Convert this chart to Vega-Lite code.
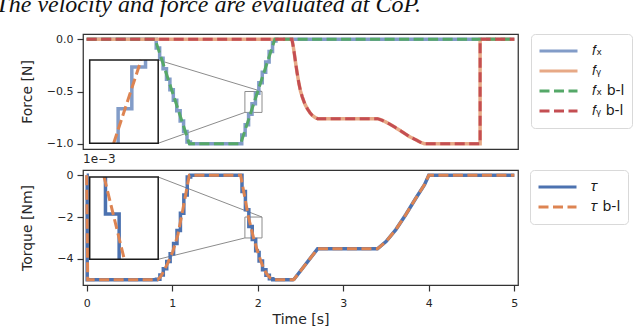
{
  "$schema": "https://vega.github.io/schema/vega-lite/v6.json",
  "padding": {"left": -5, "top": -8, "right": 0, "bottom": 0},
  "background": "white",
  "title": {"text": "The velocity and force are evaluated at CoP.", "font": "Liberation Serif", "fontStyle": "italic", "fontWeight": "normal", "fontSize": 24, "anchor": "start", "color": "#111", "offset": 15, "dx": -24},
  "datasets": {
    "F": [
      {"s": "fx", "i": 0, "t": 0, "v": 0}, {"s": "fx", "i": 1, "t": 0.813, "v": -0.083}, {"s": "fx", "i": 2, "t": 0.853, "v": -0.183}, {"s": "fx", "i": 3, "t": 0.893, "v": -0.283}, {"s": "fx", "i": 4, "t": 0.933, "v": -0.383}, {"s": "fx", "i": 5, "t": 0.973, "v": -0.483}, {"s": "fx", "i": 6, "t": 1.013, "v": -0.583}, {"s": "fx", "i": 7, "t": 1.053, "v": -0.683}, {"s": "fx", "i": 8, "t": 1.093, "v": -0.783}, {"s": "fx", "i": 9, "t": 1.133, "v": -0.883}, {"s": "fx", "i": 10, "t": 1.173, "v": -0.983}, {"s": "fx", "i": 11, "t": 1.213, "v": -1}, {"s": "fx", "i": 12, "t": 1.813, "v": -0.917}, {"s": "fx", "i": 13, "t": 1.853, "v": -0.817}, {"s": "fx", "i": 14, "t": 1.893, "v": -0.717}, {"s": "fx", "i": 15, "t": 1.933, "v": -0.617}, {"s": "fx", "i": 16, "t": 1.973, "v": -0.517}, {"s": "fx", "i": 17, "t": 2.013, "v": -0.417}, {"s": "fx", "i": 18, "t": 2.053, "v": -0.317}, {"s": "fx", "i": 19, "t": 2.093, "v": -0.217}, {"s": "fx", "i": 20, "t": 2.133, "v": -0.117}, {"s": "fx", "i": 21, "t": 2.173, "v": -0.017}, {"s": "fx", "i": 22, "t": 2.213, "v": 0}, {"s": "fx", "i": 23, "t": 5, "v": 0},
      {"s": "fy", "i": 0, "t": 0, "v": 0}, {"s": "fy", "i": 1, "t": 2.4, "v": 0}, {"s": "fy", "i": 2, "t": 2.41, "v": -0.045}, {"s": "fy", "i": 3, "t": 2.42, "v": -0.095}, {"s": "fy", "i": 4, "t": 2.43, "v": -0.15}, {"s": "fy", "i": 5, "t": 2.444, "v": -0.233}, {"s": "fy", "i": 6, "t": 2.46, "v": -0.32}, {"s": "fy", "i": 7, "t": 2.482, "v": -0.425}, {"s": "fy", "i": 8, "t": 2.5, "v": -0.495}, {"s": "fy", "i": 9, "t": 2.521, "v": -0.553}, {"s": "fy", "i": 10, "t": 2.55, "v": -0.618}, {"s": "fy", "i": 11, "t": 2.58, "v": -0.665}, {"s": "fy", "i": 12, "t": 2.61, "v": -0.702}, {"s": "fy", "i": 13, "t": 2.638, "v": -0.729}, {"s": "fy", "i": 14, "t": 2.67, "v": -0.748}, {"s": "fy", "i": 15, "t": 2.7, "v": -0.76}, {"s": "fy", "i": 16, "t": 3.4, "v": -0.76}, {"s": "fy", "i": 17, "t": 3.45, "v": -0.773}, {"s": "fy", "i": 18, "t": 3.536, "v": -0.808}, {"s": "fy", "i": 19, "t": 3.61, "v": -0.845}, {"s": "fy", "i": 20, "t": 3.692, "v": -0.888}, {"s": "fy", "i": 21, "t": 3.77, "v": -0.93}, {"s": "fy", "i": 22, "t": 3.849, "v": -0.962}, {"s": "fy", "i": 23, "t": 3.9, "v": -0.985}, {"s": "fy", "i": 24, "t": 3.95, "v": -1}, {"s": "fy", "i": 25, "t": 4.6, "v": -1}, {"s": "fy", "i": 26, "t": 4.6, "v": 0}, {"s": "fy", "i": 27, "t": 5, "v": 0},
      {"s": "fybl", "i": 0, "t": 0, "v": 0}, {"s": "fybl", "i": 1, "t": 2.4, "v": 0}, {"s": "fybl", "i": 2, "t": 2.41, "v": -0.045}, {"s": "fybl", "i": 3, "t": 2.42, "v": -0.095}, {"s": "fybl", "i": 4, "t": 2.43, "v": -0.15}, {"s": "fybl", "i": 5, "t": 2.444, "v": -0.233}, {"s": "fybl", "i": 6, "t": 2.46, "v": -0.32}, {"s": "fybl", "i": 7, "t": 2.482, "v": -0.425}, {"s": "fybl", "i": 8, "t": 2.5, "v": -0.495}, {"s": "fybl", "i": 9, "t": 2.521, "v": -0.553}, {"s": "fybl", "i": 10, "t": 2.55, "v": -0.618}, {"s": "fybl", "i": 11, "t": 2.58, "v": -0.665}, {"s": "fybl", "i": 12, "t": 2.61, "v": -0.702}, {"s": "fybl", "i": 13, "t": 2.638, "v": -0.729}, {"s": "fybl", "i": 14, "t": 2.67, "v": -0.748}, {"s": "fybl", "i": 15, "t": 2.7, "v": -0.76}, {"s": "fybl", "i": 16, "t": 3.4, "v": -0.76}, {"s": "fybl", "i": 17, "t": 3.45, "v": -0.773}, {"s": "fybl", "i": 18, "t": 3.536, "v": -0.808}, {"s": "fybl", "i": 19, "t": 3.61, "v": -0.845}, {"s": "fybl", "i": 20, "t": 3.692, "v": -0.888}, {"s": "fybl", "i": 21, "t": 3.77, "v": -0.93}, {"s": "fybl", "i": 22, "t": 3.849, "v": -0.962}, {"s": "fybl", "i": 23, "t": 3.9, "v": -0.985}, {"s": "fybl", "i": 24, "t": 3.95, "v": -1}, {"s": "fybl", "i": 25, "t": 4.6, "v": -1}, {"s": "fybl", "i": 26, "t": 4.6, "v": 0}, {"s": "fybl", "i": 27, "t": 5, "v": 0},
      {"s": "fxbl", "i": 0, "t": 0, "v": 0}, {"s": "fxbl", "i": 1, "t": 0.8, "v": 0}, {"s": "fxbl", "i": 2, "t": 1.2, "v": -1}, {"s": "fxbl", "i": 3, "t": 1.8, "v": -1}, {"s": "fxbl", "i": 4, "t": 2.2, "v": 0}, {"s": "fxbl", "i": 5, "t": 5, "v": 0}
    ],
    "T": [
      {"s": "tau", "i": 0, "t": 0, "v": 0}, {"s": "tau", "i": 1, "t": 0.006, "v": -5}, {"s": "tau", "i": 2, "t": 0.816, "v": -4.97}, {"s": "tau", "i": 3, "t": 0.856, "v": -4.77}, {"s": "tau", "i": 4, "t": 0.896, "v": -4.47}, {"s": "tau", "i": 5, "t": 0.936, "v": -4.13}, {"s": "tau", "i": 6, "t": 0.976, "v": -3.75}, {"s": "tau", "i": 7, "t": 1.016, "v": -3.26}, {"s": "tau", "i": 8, "t": 1.056, "v": -2.64}, {"s": "tau", "i": 9, "t": 1.096, "v": -1.82}, {"s": "tau", "i": 10, "t": 1.136, "v": -0.95}, {"s": "tau", "i": 11, "t": 1.176, "v": -0.09}, {"s": "tau", "i": 12, "t": 1.216, "v": 0},
      {"s": "tau", "i": 13, "t": 1.816, "v": -0.78}, {"s": "tau", "i": 14, "t": 1.856, "v": -1.65}, {"s": "tau", "i": 15, "t": 1.896, "v": -2.45}, {"s": "tau", "i": 16, "t": 1.936, "v": -3.07}, {"s": "tau", "i": 17, "t": 1.976, "v": -3.61}, {"s": "tau", "i": 18, "t": 2.016, "v": -4.1}, {"s": "tau", "i": 19, "t": 2.056, "v": -4.52}, {"s": "tau", "i": 20, "t": 2.096, "v": -4.78}, {"s": "tau", "i": 21, "t": 2.136, "v": -4.95}, {"s": "tau", "i": 22, "t": 2.176, "v": -5}, {"s": "tau", "i": 23, "t": 2.42, "v": -5},
      {"s": "tau2", "i": 0, "t": 2.42, "v": -5}, {"s": "tau2", "i": 1, "t": 2.7, "v": -3.52}, {"s": "tau2", "i": 2, "t": 3.4, "v": -3.52}, {"s": "tau2", "i": 3, "t": 3.5, "v": -3.17}, {"s": "tau2", "i": 4, "t": 3.615, "v": -2.6}, {"s": "tau2", "i": 5, "t": 3.73, "v": -1.89}, {"s": "tau2", "i": 6, "t": 3.85, "v": -1.09}, {"s": "tau2", "i": 7, "t": 3.95, "v": -0.45}, {"s": "tau2", "i": 8, "t": 4.0, "v": 0}, {"s": "tau2", "i": 9, "t": 5, "v": 0},
      {"s": "taubl", "i": 0, "t": 0, "v": 0}, {"s": "taubl", "i": 1, "t": 0.012, "v": -5}, {"s": "taubl", "i": 2, "t": 0.83, "v": -5}, {"s": "taubl", "i": 3, "t": 0.86, "v": -4.87}, {"s": "taubl", "i": 4, "t": 0.89, "v": -4.68}, {"s": "taubl", "i": 5, "t": 0.948, "v": -4.2}, {"s": "taubl", "i": 6, "t": 1.007, "v": -3.65}, {"s": "taubl", "i": 7, "t": 1.066, "v": -2.85}, {"s": "taubl", "i": 8, "t": 1.124, "v": -1.65}, {"s": "taubl", "i": 9, "t": 1.163, "v": -0.8}, {"s": "taubl", "i": 10, "t": 1.2, "v": 0}, {"s": "taubl", "i": 11, "t": 1.8, "v": 0}, {"s": "taubl", "i": 12, "t": 1.837, "v": -0.8}, {"s": "taubl", "i": 13, "t": 1.876, "v": -1.65}, {"s": "taubl", "i": 14, "t": 1.892, "v": -2}, {"s": "taubl", "i": 15, "t": 1.92, "v": -2.48}, {"s": "taubl", "i": 16, "t": 1.951, "v": -3}, {"s": "taubl", "i": 17, "t": 1.995, "v": -3.6}, {"s": "taubl", "i": 18, "t": 2.034, "v": -4.08}, {"s": "taubl", "i": 19, "t": 2.073, "v": -4.5}, {"s": "taubl", "i": 20, "t": 2.11, "v": -4.75}, {"s": "taubl", "i": 21, "t": 2.15, "v": -4.93}, {"s": "taubl", "i": 22, "t": 2.18, "v": -5}, {"s": "taubl", "i": 23, "t": 2.42, "v": -5}, {"s": "taubl", "i": 24, "t": 2.7, "v": -3.52}, {"s": "taubl", "i": 25, "t": 3.4, "v": -3.52}, {"s": "taubl", "i": 26, "t": 3.5, "v": -3.17}, {"s": "taubl", "i": 27, "t": 3.615, "v": -2.6}, {"s": "taubl", "i": 28, "t": 3.73, "v": -1.89}, {"s": "taubl", "i": 29, "t": 3.85, "v": -1.09}, {"s": "taubl", "i": 30, "t": 3.95, "v": -0.45}, {"s": "taubl", "i": 31, "t": 4.0, "v": 0}, {"s": "taubl", "i": 32, "t": 5, "v": 0}
    ],
    "IF": [
      {"s": "fx", "i": 0, "t": 1.933, "v": -0.7}, {"s": "fx", "i": 1, "t": 1.933, "v": -0.617}, {"s": "fx", "i": 2, "t": 1.973, "v": -0.617}, {"s": "fx", "i": 3, "t": 1.973, "v": -0.517}, {"s": "fx", "i": 4, "t": 2.013, "v": -0.517}, {"s": "fx", "i": 5, "t": 2.013, "v": -0.5},
      {"s": "fxbl", "i": 0, "t": 1.92, "v": -0.7}, {"s": "fxbl", "i": 1, "t": 2.0, "v": -0.5}
    ],
    "IT": [
      {"s": "tau", "i": 0, "t": 1.896, "v": -2}, {"s": "tau", "i": 1, "t": 1.896, "v": -2.45}, {"s": "tau", "i": 2, "t": 1.936, "v": -2.45}, {"s": "tau", "i": 3, "t": 1.936, "v": -3},
      {"s": "taubl", "i": 0, "t": 1.892, "v": -2}, {"s": "taubl", "i": 1, "t": 1.951, "v": -3}
    ],
    "BF": [{"t": 1.85, "t2": 2.05, "v": -0.7, "v2": -0.5}],
    "BT": [{"t": 1.85, "t2": 2.05, "v": -3, "v2": -2}],
    "CF": [{"t": 0.836, "v": -0.199, "t2": 2.05, "v2": -0.5}, {"t": 0.836, "v": -0.995, "t2": 1.85, "v2": -0.7}],
    "CT": [{"t": 0.836, "v": -0.085, "t2": 2.05, "v2": -2}, {"t": 0.836, "v": -4.021, "t2": 1.85, "v2": -3}]
  },
  "spacing": 0,
  "resolve": {"scale": {"color": "independent", "strokeDash": "independent"}, "legend": {"color": "independent", "strokeDash": "independent"}},
  "vconcat": [
    {
      "width": 435, "height": 115,
      "resolve": {"scale": {"x": "independent", "y": "independent"}},
      "layer": [
        {
          "encoding": {
            "x": {"field": "t", "type": "quantitative", "scale": {"domain": [-0.043, 5.043], "nice": false, "zero": false}, "axis": null},
            "y": {"field": "v", "type": "quantitative", "scale": {"domain": [-1.05, 0.05], "nice": false, "zero": false}, "axis": {"values": [0, -0.5, -1], "format": ".1f", "title": "Force [N]", "titleX": -56, "titleBaseline": "middle"}}
          },
          "layer": [
            {"data": {"name": "BF"}, "mark": {"type": "rect", "fillOpacity": 0, "stroke": "#8c8c8c", "strokeWidth": 1}, "encoding": {"x2": {"field": "t2"}, "y2": {"field": "v2"}}},
            {"data": {"name": "CF"}, "mark": {"type": "rule", "stroke": "#8c8c8c", "strokeWidth": 1}, "encoding": {"x2": {"field": "t2"}, "y2": {"field": "v2"}}},
            {"data": {"name": "F"}, "transform": [{"filter": "datum.s == 'fx'"}], "mark": {"type": "line", "interpolate": "step-after", "strokeWidth": 3.5},
             "encoding": {"order": {"field": "i", "type": "quantitative"},
               "color": {"field": "s", "type": "nominal", "scale": {"domain": ["fx", "fy", "fxbl", "fybl"], "range": ["#829cc8", "#e7a986", "#55a868", "#c44e52"]}, "legend": {"title": null, "labelExpr": "{'fx': '𝑓ₓ', 'fy': '𝑓ᵧ', 'fxbl': '𝑓ₓ b-l', 'fybl': '𝑓ᵧ b-l'}[datum.label]"}},
               "strokeDash": {"field": "s", "type": "nominal", "scale": {"domain": ["fx", "fy", "fxbl", "fybl"], "range": [[1, 0], [1, 0], [10, 4.5], [10, 4.5]]}, "legend": {"title": null, "labelExpr": "{'fx': '𝑓ₓ', 'fy': '𝑓ᵧ', 'fxbl': '𝑓ₓ b-l', 'fybl': '𝑓ᵧ b-l'}[datum.label]"}}}},
            {"data": {"name": "F"}, "transform": [{"filter": "datum.s == 'fy'"}], "mark": {"type": "line", "strokeWidth": 3.5},
             "encoding": {"order": {"field": "i", "type": "quantitative"}, "color": {"field": "s", "type": "nominal"}, "strokeDash": {"field": "s", "type": "nominal"}}},
            {"data": {"name": "F"}, "transform": [{"filter": "datum.s == 'fxbl'"}], "mark": {"type": "line", "strokeWidth": 3},
             "encoding": {"order": {"field": "i", "type": "quantitative"}, "color": {"field": "s", "type": "nominal"}, "strokeDash": {"field": "s", "type": "nominal"}}},
            {"data": {"name": "F"}, "transform": [{"filter": "datum.s == 'fybl'"}], "mark": {"type": "line", "strokeWidth": 3},
             "encoding": {"order": {"field": "i", "type": "quantitative"}, "color": {"field": "s", "type": "nominal"}, "strokeDash": {"field": "s", "type": "nominal"}}}
          ]
        },
        {
          "encoding": {
            "x": {"field": "t", "type": "quantitative", "scale": {"domain": [1.85, 2.05], "range": [6.7, 75.2], "nice": false, "zero": false}, "axis": null},
            "y": {"field": "v", "type": "quantitative", "scale": {"domain": [-0.7, -0.5], "range": [109.3, 26], "nice": false, "zero": false}, "axis": null}
          },
          "layer": [
            {"data": {"name": "BF"}, "mark": {"type": "rect", "fill": "white", "strokeWidth": 0}, "encoding": {"x2": {"field": "t2"}, "y2": {"field": "v2"}}},
            {"data": {"name": "IF"}, "transform": [{"filter": "datum.s == 'fx'"}], "mark": {"type": "line", "stroke": "#829cc8", "strokeWidth": 3.5}, "encoding": {"order": {"field": "i", "type": "quantitative"}}},
            {"data": {"name": "IF"}, "transform": [{"filter": "datum.s == 'fxbl'"}], "mark": {"type": "line", "stroke": "#dd8452", "strokeWidth": 3, "strokeDash": [10, 4.5]}, "encoding": {"order": {"field": "i", "type": "quantitative"}}},
            {"data": {"name": "BF"}, "mark": {"type": "rect", "fillOpacity": 0, "stroke": "#1a1a1a", "strokeWidth": 1.5}, "encoding": {"x2": {"field": "t2"}, "y2": {"field": "v2"}}}
          ]
        }
      ]
    },
    {
      "width": 435, "height": 115,
      "title": {"text": "1e−3", "anchor": "start", "frame": "group", "fontSize": 12, "font": "DejaVu Sans", "fontWeight": "normal", "color": "#262626", "offset": 2},
      "resolve": {"scale": {"x": "independent", "y": "independent"}},
      "layer": [
        {
          "encoding": {
            "x": {"field": "t", "type": "quantitative", "scale": {"domain": [-0.043, 5.043], "nice": false, "zero": false}, "axis": {"values": [0, 1, 2, 3, 4, 5], "format": "d", "title": "Time [s]", "titlePadding": 4, "labelPadding": 6}},
            "y": {"field": "v", "type": "quantitative", "scale": {"domain": [-5.25, 0.25], "nice": false, "zero": false}, "axis": {"values": [0, -2, -4], "format": "d", "title": "Torque [Nm]", "titleX": -56, "titleBaseline": "middle"}}
          },
          "layer": [
            {"data": {"name": "BT"}, "mark": {"type": "rect", "fillOpacity": 0, "stroke": "#8c8c8c", "strokeWidth": 1}, "encoding": {"x2": {"field": "t2"}, "y2": {"field": "v2"}}},
            {"data": {"name": "CT"}, "mark": {"type": "rule", "stroke": "#8c8c8c", "strokeWidth": 1}, "encoding": {"x2": {"field": "t2"}, "y2": {"field": "v2"}}},
            {"data": {"name": "T"}, "transform": [{"filter": "datum.s == 'tau'"}], "mark": {"type": "line", "interpolate": "step-after", "strokeWidth": 3.5},
             "encoding": {"order": {"field": "i", "type": "quantitative"},
               "color": {"field": "s", "type": "nominal", "scale": {"domain": ["tau", "taubl"], "range": ["#4c72b0", "#dd8452"]}, "legend": {"title": null, "labelExpr": "{'tau': '𝜏', 'taubl': '𝜏 b-l'}[datum.label]"}},
               "strokeDash": {"field": "s", "type": "nominal", "scale": {"domain": ["tau", "taubl"], "range": [[1, 0], [10, 4.5]]}, "legend": {"title": null, "labelExpr": "{'tau': '𝜏', 'taubl': '𝜏 b-l'}[datum.label]"}}}},
            {"data": {"name": "T"}, "transform": [{"filter": "datum.s == 'tau2'"}], "mark": {"type": "line", "stroke": "#4c72b0", "strokeWidth": 3.5},
             "encoding": {"order": {"field": "i", "type": "quantitative"}}},
            {"data": {"name": "T"}, "transform": [{"filter": "datum.s == 'taubl'"}], "mark": {"type": "line", "strokeWidth": 3},
             "encoding": {"order": {"field": "i", "type": "quantitative"}, "color": {"field": "s", "type": "nominal"}, "strokeDash": {"field": "s", "type": "nominal"}}}
          ]
        },
        {
          "encoding": {
            "x": {"field": "t", "type": "quantitative", "scale": {"domain": [1.85, 2.05], "range": [6.7, 75.2], "nice": false, "zero": false}, "axis": null},
            "y": {"field": "v", "type": "quantitative", "scale": {"domain": [-3, -2], "range": [89.3, 7], "nice": false, "zero": false}, "axis": null}
          },
          "layer": [
            {"data": {"name": "BT"}, "mark": {"type": "rect", "fill": "white", "strokeWidth": 0}, "encoding": {"x2": {"field": "t2"}, "y2": {"field": "v2"}}},
            {"data": {"name": "IT"}, "transform": [{"filter": "datum.s == 'tau'"}], "mark": {"type": "line", "stroke": "#4c72b0", "strokeWidth": 3.5}, "encoding": {"order": {"field": "i", "type": "quantitative"}}},
            {"data": {"name": "IT"}, "transform": [{"filter": "datum.s == 'taubl'"}], "mark": {"type": "line", "stroke": "#dd8452", "strokeWidth": 3, "strokeDash": [10, 4.5]}, "encoding": {"order": {"field": "i", "type": "quantitative"}}},
            {"data": {"name": "BT"}, "mark": {"type": "rect", "fillOpacity": 0, "stroke": "#1a1a1a", "strokeWidth": 1.5}, "encoding": {"x2": {"field": "t2"}, "y2": {"field": "v2"}}}
          ]
        }
      ]
    }
  ],
  "config": {
    "view": {"stroke": "#333333", "strokeWidth": 1.25},
    "axis": {"labelFont": "DejaVu Sans", "labelFontSize": 11, "titleFont": "DejaVu Sans", "titleFontSize": 14, "titleFontWeight": "normal", "labelColor": "#262626", "titleColor": "#262626", "tickColor": "#333333", "tickSize": 6, "tickWidth": 1.2, "domain": false, "grid": false, "labelPadding": 4},
    "legend": {"orient": "right", "offset": 9, "padding": 7, "strokeColor": "#d9d9d9", "cornerRadius": 4, "fillColor": "white", "symbolType": "stroke", "symbolSize": 1444, "symbolStrokeWidth": 3, "labelFontSize": 14, "labelFont": "DejaVu Sans", "labelColor": "#1a1a1a", "rowPadding": 0, "clipHeight": 20, "labelOffset": 13}
  }
}
